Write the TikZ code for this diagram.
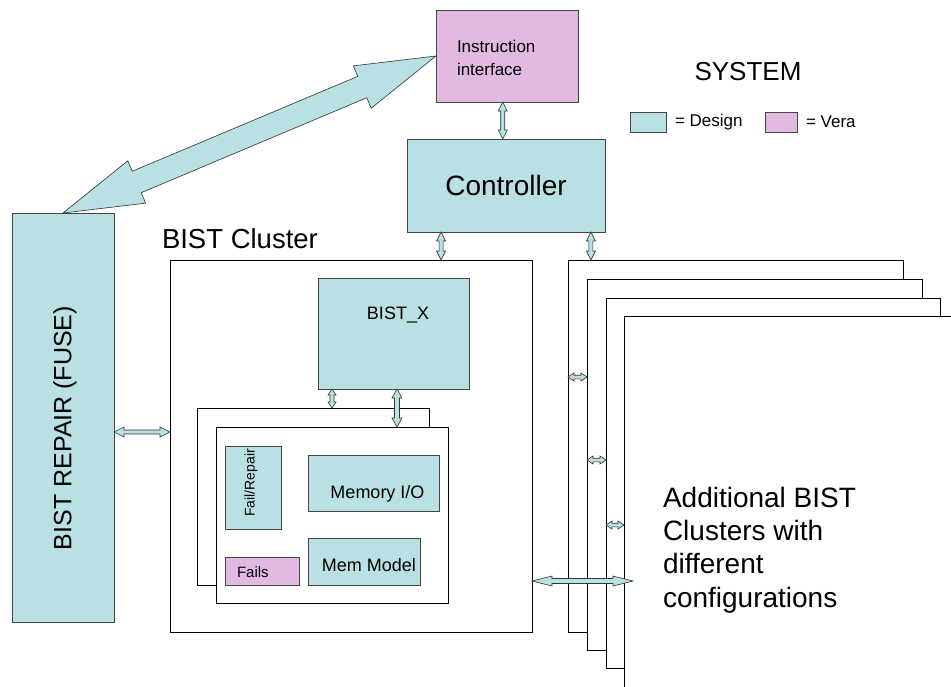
\documentclass[tikz,border=0pt]{standalone}
\usepackage{fontspec}
\setmainfont{Liberation Sans}
\usetikzlibrary{calc}
\definecolor{design}{RGB}{185,224,227}
\definecolor{vera}{RGB}{226,185,225}
\definecolor{edgegray}{RGB}{70,70,70}
\newcommand\blkarrow[5]{%
 \coordinate (ba-a) at (#1);
 \coordinate (ba-b) at (#2);
 \coordinate (ba-a1) at ($(ba-a)!#5!(ba-b)$);
 \coordinate (ba-b1) at ($(ba-b)!#5!(ba-a)$);
 \draw[arrowbody] (ba-a) -- ($(ba-a1)!#4!90:(ba-b)$) -- ($(ba-a1)!#3!90:(ba-b)$)
   -- ($(ba-b1)!#3!-90:(ba-a)$) -- ($(ba-b1)!#4!-90:(ba-a)$) -- (ba-b)
   -- ($(ba-b1)!#4!90:(ba-a)$) -- ($(ba-b1)!#3!90:(ba-a)$)
   -- ($(ba-a1)!#3!-90:(ba-b)$) -- ($(ba-a1)!#4!-90:(ba-b)$) -- cycle;}
\tikzset{
  arrowbody/.style={fill=design, draw=black!80, line width=0.6pt, line join=miter},
  blk/.style={anchor=north west, inner sep=0pt, outer sep=0pt, line width=0.8pt},
  designbox/.style={blk, fill=design, draw=edgegray},
  verabox/.style={blk, fill=vera, draw=edgegray},
  whitebox/.style={blk, fill=white, draw=black},
  lbl/.style={inner sep=0pt, outer sep=0pt, text=black},
}
\begin{document}
\begin{tikzpicture}[x=1pt,y=-1pt]
\useasboundingbox (0,0) rectangle (951,686);
\clip (0,0) rectangle (951,686);
\fill[white] (0,0) rectangle (951,686);

% top blocks
\node[verabox, minimum width=142pt, minimum height=92pt] (instr) at (436,10) {};
\node[lbl, anchor=north west, align=left, font=\fontsize{17}{23}\selectfont] (instrtxt) at (457,40) {Instruction\\interface};
\node[designbox, minimum width=198pt, minimum height=93pt, font=\fontsize{28}{33}\selectfont] (ctrl) at (407,139) {Controller};

% legend
\node[lbl, font=\fontsize{26}{30}\selectfont] (systxt) at (748,72) {SYSTEM};
\node[designbox, minimum width=36pt, minimum height=20pt] (legd) at (630,112) {};
\node[lbl, anchor=west, font=\fontsize{17}{20}\selectfont] (legdtxt) at (675,122) {= Design};
\node[verabox, minimum width=32pt, minimum height=20pt] (legv) at (765,112) {};
\node[lbl, anchor=west, font=\fontsize{17}{20}\selectfont] (legvtxt) at (806,122) {= Vera};

% BIST repair
\node[designbox, minimum width=102pt, minimum height=409pt] (repair) at (12,213) {};
\node[lbl, rotate=90, font=\fontsize{25}{30}\selectfont] (repairtxt) at (65,428) {BIST REPAIR (FUSE)};

% BIST cluster
\node[lbl, anchor=west, font=\fontsize{27.5}{32}\selectfont] (clustertxt) at (162,239) {BIST Cluster};
\node[whitebox, minimum width=362pt, minimum height=372pt] (cluster) at (170,260) {};
\node[designbox, minimum width=151pt, minimum height=111pt] (bistx) at (318,278) {};
\node[lbl, font=\fontsize{18}{22}\selectfont] (bistxtxt) at (398,315) {BIST\_X};
\node[whitebox, minimum width=232pt, minimum height=177pt] (back) at (197,408) {};
\node[whitebox, minimum width=232pt, minimum height=176pt] (front) at (216,427) {};
\node[designbox, minimum width=56pt, minimum height=83pt] (failrep) at (225,446) {};
\node[lbl, rotate=90, font=\fontsize{14}{17}\selectfont] (failreptxt) at (251,483) {Fail/Repair};
\node[designbox, minimum width=131pt, minimum height=56pt] (memio) at (308,455) {};
\node[lbl, anchor=base, font=\fontsize{18}{22}\selectfont] (memiotxt) at (377.5,498) {Memory I/O};
\node[verabox, minimum width=74pt, minimum height=28pt] (fails) at (225,557) {};
\node[lbl, anchor=base west, font=\fontsize{15}{18}\selectfont] (failstxt) at (237,577) {Fails};
\node[designbox, minimum width=112pt, minimum height=47pt] (memmodel) at (308,538) {};
\node[lbl, anchor=base, font=\fontsize{18}{22}\selectfont] (memmodeltxt) at (369,571) {Mem Model};

% additional clusters
\node[whitebox, minimum width=335pt, minimum height=372pt] (box1) at (568,260) {};
\node[whitebox, minimum width=335pt, minimum height=371pt] (box2) at (587,279) {};
\node[whitebox, minimum width=334pt, minimum height=370pt] (box3) at (606,298) {};
\node[whitebox, minimum width=360pt, minimum height=400pt] (box4) at (624,316) {};
\node[lbl, anchor=north west, align=left, font=\fontsize{28}{33.3}\selectfont] (addtxt) at (663,487)
  {Additional BIST\\Clusters with\\different\\configurations};

% connectors
\blkarrow{repair.north}{instr.west}{11.6pt}{23pt}{80pt}
\coordinate (ic) at ($(instr.south west)!0.47!(instr.south east)$);
\blkarrow{ic}{ic |- ctrl.north}{2pt}{4.5pt}{9pt}
\coordinate (c1) at ($(ctrl.south west)!0.172!(ctrl.south east)$);
\blkarrow{c1}{c1 |- cluster.north}{2pt}{4.5pt}{9pt}
\coordinate (c2) at ($(ctrl.south west)!0.929!(ctrl.south east)$);
\blkarrow{c2}{c2 |- box1.north}{2pt}{4.5pt}{9pt}
\coordinate (r1) at ($(repair.north east)+(0,219)$);
\blkarrow{r1}{r1 -| cluster.west}{2pt}{5pt}{10pt}
\coordinate (b1) at ($(bistx.south west)!0.093!(bistx.south east)$);
\blkarrow{b1}{b1 |- back.north}{2pt}{4pt}{6pt}
\coordinate (b2) at ($(bistx.south west)!0.523!(bistx.south east)$);
\blkarrow{b2}{b2 |- front.north}{2.5pt}{5pt}{9pt}
\coordinate (s1) at ($(box1.north west)+(0,117)$);
\blkarrow{s1}{s1 -| box2.west}{1.8pt}{4pt}{6pt}
\coordinate (s2) at ($(box2.north west)+(0,181)$);
\blkarrow{s2}{s2 -| box3.west}{1.8pt}{4pt}{6pt}
\coordinate (s3) at ($(box3.north west)+(0,227)$);
\blkarrow{s3}{s3 -| box4.west}{1.8pt}{4pt}{6pt}
\coordinate (h1) at ($(cluster.north east)+(0,321)$);
\coordinate (h2) at ($(h1 -| box4.west)+(9,0)$);
\blkarrow{h1}{h2}{2.5pt}{5pt}{20pt}
\end{tikzpicture}
\end{document}
